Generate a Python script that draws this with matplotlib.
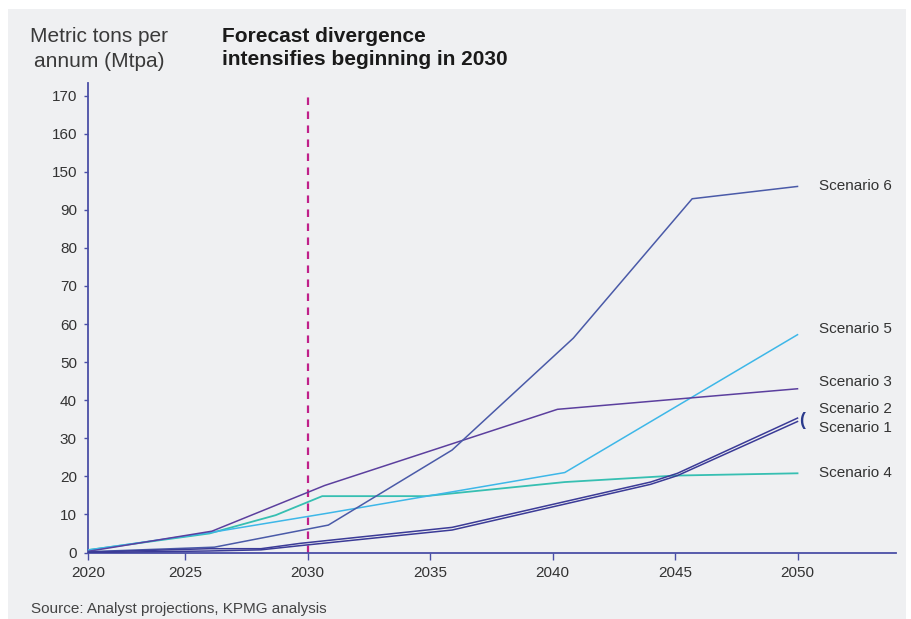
import numpy as np
import matplotlib.pyplot as plt
from matplotlib.patches import Rectangle

plt.rcParams['font.family'] = ['Liberation Sans', 'DejaVu Sans']

# values (Mtpa); the y axis is broken between 90 and 150
s1_years = [2020, 2026, 2028.1, 2029.7, 2035.9, 2044, 2045.1, 2050]
s1_vals = [0.0, 0.4, 0.7, 1.8, 5.9, 17.9, 20.2, 34.4]

s2_years = [2020, 2026, 2028.1, 2029.7, 2035.9, 2044, 2045.1, 2050]
s2_vals = [0.1, 1.0, 1.0, 2.4, 6.6, 18.5, 20.8, 35.3]

s3_years = [2020, 2026.1, 2030.7, 2040.2, 2050]
s3_vals = [0.3, 5.6, 17.6, 37.6, 43.0]

s4_years = [2020, 2026, 2028.7, 2030.6, 2034.8, 2040.5, 2045, 2050]
s4_vals = [0.65, 5.0, 9.8, 14.8, 14.8, 18.5, 20.2, 20.8]

s5_years = [2020, 2026, 2030.8, 2040.5, 2050]
s5_vals = [0.65, 5.2, 10.3, 21.0, 57.2]

s6_years = [2020, 2026.2, 2030.85, 2035.9, 2040.85, 2045.7, 2050]
s6_vals = [0.2, 1.4, 7.2, 26.9, 56.3, 107.4, 126.8]

scenario_names = ["Scenario 1", "Scenario 2", "Scenario 3", "Scenario 4", "Scenario 5", "Scenario 6"]
label_vals = [32.8, 37.7, 44.8, 20.8, 58.6, 127.3]

x_ticks = [2020, 2025, 2030, 2035, 2040, 2045, 2050]
y_ticks = [0, 10, 20, 30, 40, 50, 60, 70, 80, 90, 150, 160, 170]

# piecewise scales to mimic the uneven axes of the original
xk_year = [1900, 2020, 2025, 2200]
xk_pos = [-96, 0, 3.96, 178.96]
yk_val = [-100, 0, 90, 150, 170, 1000]
yk_pos = [-100, 0, 90, 100, 120, 950]


def x_fwd(x):
    return np.interp(x, xk_year, xk_pos)


def x_inv(p):
    return np.interp(p, xk_pos, xk_year)


def y_fwd(y):
    return np.interp(y, yk_val, yk_pos)


def y_inv(p):
    return np.interp(p, yk_pos, yk_val)


W, H = 911, 619
fig = plt.figure(figsize=(W / 100, H / 100), dpi=100)
fig.patch.set_facecolor("white")
fig.patches.append(Rectangle((8 / W, 0), (906 - 8) / W, (H - 9) / H,
                             transform=fig.transFigure, facecolor="#eff0f2",
                             edgecolor="none", zorder=-10))

ax = fig.add_axes([88 / W, (H - 552.5) / H, (896 - 88) / W, (552.5 - 83) / H])
ax.set_facecolor("none")
ax.set_xscale("function", functions=(x_fwd, x_inv))
ax.set_yscale("function", functions=(y_fwd, y_inv))

axis_col = "#4a4fa6"
lw = 1.1
ax.plot(s4_years, s4_vals, color="#36bfb2", lw=lw + 0.2, zorder=3)
ax.plot(s5_years, s5_vals, color="#3db7e8", lw=lw, zorder=3)
ax.plot(s3_years, s3_vals, color="#5b3f9e", lw=lw, zorder=3)
ax.plot(s6_years, s6_vals, color="#4a5aa8", lw=lw, zorder=3)
ax.plot(s2_years, s2_vals, color="#3b3b97", lw=lw, zorder=4)
ax.plot(s1_years, s1_vals, color="#3b3b97", lw=lw, zorder=4)

ax.plot([2030, 2030], [0, 170], color="#c0208a", lw=1.6,
        dashes=(3.4, 2.9), zorder=2)

for name, v in zip(scenario_names, label_vals):
    ax.text(2050.88, v, name, fontsize=11, color="#333333",
            ha="left", va="center")
ax.text(2050.2, 34.6, "(", fontsize=13, fontweight="bold", color="#2a3a8c",
        ha="center", va="center")

ax.set_xlim(2020, 2054.02)
ax.set_ylim(0, 173.3)
ax.set_xticks(x_ticks)
ax.set_xticklabels([str(t) for t in x_ticks])
ax.set_yticks(y_ticks)
ax.set_yticklabels([str(t) for t in y_ticks])
ax.minorticks_off()

for side in ["top", "right"]:
    ax.spines[side].set_visible(False)
for side in ["left", "bottom"]:
    ax.spines[side].set_color(axis_col)
    ax.spines[side].set_linewidth(1.3)

ax.tick_params(axis="x", length=5, width=1, color=axis_col, pad=5,
               labelsize=11, labelcolor="#333333")
ax.tick_params(axis="y", length=3, width=1, color=axis_col, pad=5,
               labelsize=11, labelcolor="#333333")

fig.text(99 / W, 1 - 42 / H, "Metric tons per", fontsize=15, color="#3a3a3a",
         ha="center", va="baseline")
fig.text(99 / W, 1 - 67 / H, "annum (Mtpa)", fontsize=15, color="#3a3a3a",
         ha="center", va="baseline")
fig.text(222 / W, 1 - 42 / H, "Forecast divergence", fontsize=15,
         fontweight="bold", color="#1a1a1a", ha="left", va="baseline")
fig.text(222 / W, 1 - 65 / H, "intensifies beginning in 2030", fontsize=15,
         fontweight="bold", color="#1a1a1a", ha="left", va="baseline")

fig.text(31 / W, 1 - 613 / H, "Source: Analyst projections, KPMG analysis",
         fontsize=11, color="#444444", ha="left", va="baseline")

fig.savefig("out.png", dpi=100)
